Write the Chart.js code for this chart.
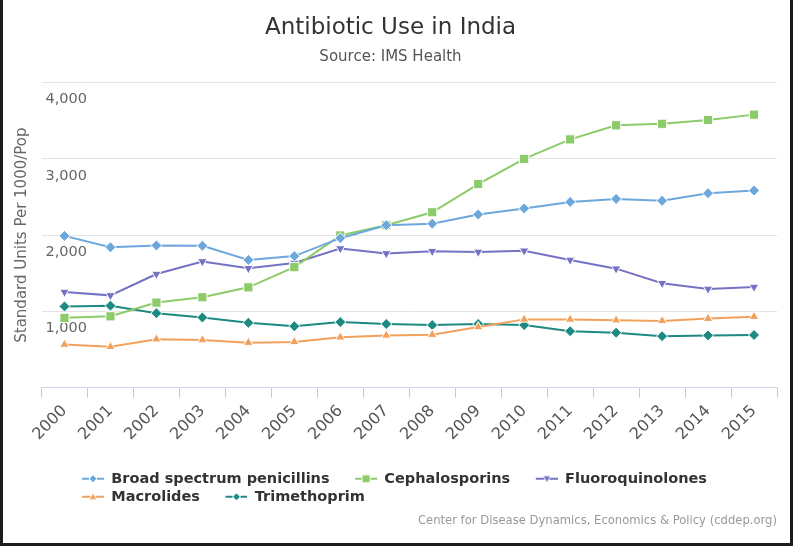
<!DOCTYPE html>
<html>
<head>
<meta charset="utf-8">
<script src="https://cdn.jsdelivr.net/npm/chart.js@4.4.1/dist/chart.umd.min.js"></script>
<style>
  html, body { margin: 0; padding: 0; background: #fff; }
  #wrap { position: relative; width: 794px; height: 546px; }
  #chart { position: absolute; left: 0; top: 0; }
  #frame { position: absolute; left: 0; top: 0; width: 793px; height: 546px; box-sizing: border-box;
    border-left: 3px solid #1c1c1c; border-right: 3px solid #1c1c1c; border-bottom: 3px solid #1c1c1c;
    pointer-events: none; }
</style>
</head>
<body>
<div id="wrap">
  <canvas id="chart" width="794" height="546"></canvas>
  <div id="frame"></div>
</div>
<script>
// values (standard units per 1000 population)
var years = ['2000', '2001', '2002', '2003', '2004', '2005', '2006', '2007',
             '2008', '2009', '2010', '2011', '2012', '2013', '2014', '2015'];
var broadSpectrum    = [1990, 1840, 1865, 1860, 1675, 1725, 1960, 2130, 2150, 2270, 2350, 2435, 2475, 2450, 2550, 2585];
var cephalosporins   = [915, 935, 1115, 1185, 1315, 1580, 1995, 2130, 2300, 2670, 3000, 3255, 3440, 3460, 3510, 3580];
var fluoroquinolones = [1255, 1210, 1490, 1655, 1565, 1635, 1825, 1760, 1790, 1780, 1795, 1675, 1560, 1370, 1295, 1320];
var macrolides       = [565, 535, 635, 625, 590, 600, 660, 685, 695, 795, 895, 895, 885, 875, 905, 930];
var trimethoprim     = [1065, 1075, 975, 920, 850, 805, 860, 835, 820, 835, 820, 740, 720, 675, 685, 690];

var seriesNames  = ['Broad spectrum penicillins', 'Cephalosporins', 'Fluoroquinolones', 'Macrolides', 'Trimethoprim'];
var seriesValues = [broadSpectrum, cephalosporins, fluoroquinolones, macrolides, trimethoprim];
var seriesColors = ['#6ea7dc', '#8bcb68', '#7571c3', '#f2a15c', '#1d8a82'];
var seriesShapes = ['diamond', 'square', 'down', 'up', 'diamond'];

var yMax = 4000;
var yStep = 1000;

var titleText = 'Antibiotic Use in India';
var subtitleText = 'Source: IMS Health';
var yTitle = 'Standard Units Per 1000/Pop';
var credits = 'Center for Disease Dynamics, Economics & Policy (cddep.org)';

Chart.defaults.font.family = "'DejaVu Sans', sans-serif";

// small line + marker used as legend symbol (left half left empty as spacing)
function legendIcon(color, shape) {
	var c = document.createElement('canvas');
	c.width = 44;
	c.height = 14;
	var g = c.getContext('2d');
	g.strokeStyle = color;
	g.lineWidth = 2;
	g.beginPath();
	g.moveTo(22, 7);
	g.lineTo(44, 7);
	g.stroke();
	var x = 33, y = 7, r = 4;
	g.beginPath();
	if (shape == 'diamond') {
		g.moveTo(x, y - r); g.lineTo(x + r, y); g.lineTo(x, y + r); g.lineTo(x - r, y);
	} else if (shape == 'square') {
		g.rect(x - r, y - r, 2 * r, 2 * r);
	} else if (shape == 'up') {
		g.moveTo(x, y - r); g.lineTo(x + r, y + r - 1); g.lineTo(x - r, y + r - 1);
	} else {
		g.moveTo(x, y + r); g.lineTo(x + r, y - r + 1); g.lineTo(x - r, y - r + 1);
	}
	g.closePath();
	g.fillStyle = color;
	g.fill();
	g.strokeStyle = '#fff';
	g.lineWidth = 1;
	g.stroke();
	return c;
}

var styleFor = {
	diamond: { pointStyle: 'rectRot', radius: 5.5, rotation: 0 },
	square:  { pointStyle: 'rect', radius: 6.5, rotation: 0 },
	down:    { pointStyle: 'triangle', radius: 5.5, rotation: 180 },
	up:      { pointStyle: 'triangle', radius: 5.5, rotation: 0 }
};

var datasets = seriesNames.map(function(name, i) {
	var s = styleFor[seriesShapes[i]];
	return {
		label: name,
		data: seriesValues[i],
		borderColor: seriesColors[i],
		backgroundColor: seriesColors[i],
		borderWidth: 2,
		tension: 0,
		pointStyle: s.pointStyle,
		pointRotation: s.rotation,
		pointRadius: s.radius,
		pointBackgroundColor: seriesColors[i],
		pointBorderColor: '#fff',
		pointBorderWidth: 1
	};
});

var icons = seriesNames.map(function(n, i) { return legendIcon(seriesColors[i], seriesShapes[i]); });

var extras = {
	id: 'extras',
	afterLayout: function(chart) {
		// highcharts legend rows start a bit further right
		chart.legend.left += 15;
	},
	afterDraw: function(chart) {
		var ctx = chart.ctx;
		ctx.save();
		ctx.font = "11.6px 'DejaVu Sans', sans-serif";
		ctx.fillStyle = '#999';
		ctx.textAlign = 'right';
		ctx.textBaseline = 'middle';
		ctx.fillText(credits, chart.width - 17, 521);
		ctx.restore();
	}
};

var ctx = document.getElementById('chart').getContext('2d');
var chart = new Chart(ctx, {
	type: 'line',
	data: { labels: years, datasets: datasets },
	plugins: [extras],
	options: {
		responsive: false,
		animation: false,
		layout: { padding: { left: 4, right: 17, top: 0, bottom: 32 } },
		plugins: {
			title: {
				display: true,
				text: titleText,
				color: '#333',
				font: { size: 23, weight: 'normal' },
				padding: { top: 14, bottom: 4 }
			},
			subtitle: {
				display: true,
				text: subtitleText,
				color: '#555',
				font: { size: 15 },
				padding: { top: 3, bottom: 16 }
			},
			legend: {
				position: 'bottom',
				align: 'start',
				fullSize: false,
				labels: {
					usePointStyle: true,
					pointStyleWidth: 44,
					padding: 3.5,
					color: '#333',
					font: { size: 14.5, weight: 'bold' },
					generateLabels: function(chart) {
						var items = Chart.defaults.plugins.legend.labels.generateLabels(chart);
						items.forEach(function(it, i) {
							it.pointStyle = icons[i];
							it.rotation = 0;
						});
						return items;
					}
				}
			},
			tooltip: { enabled: false }
		},
		scales: {
			x: {
				type: 'category',
				offset: true,
				grid: { offset: true, drawOnChartArea: false, drawTicks: true, tickLength: 10, color: '#c6cad2' },
				border: { color: '#ccd6eb' },
				ticks: { minRotation: 45, maxRotation: 45, autoSkip: false, padding: 4, color: '#555', font: { size: 16 } },
				title: { display: true, text: '', font: { size: 10 }, padding: { top: 0, bottom: 8 } },
				// rotated first label may hang into the y title area, as in the original
				afterFit: function(scale) { scale.paddingLeft = 0; }
			},
			y: {
				min: 0,
				max: yMax,
				grid: { color: '#e3e3e3', drawTicks: false, tickLength: 0 },
				border: { display: false },
				ticks: {
					stepSize: yStep,
					mirror: true,
					padding: 4,
					labelOffset: 17,
					color: '#666',
					font: { size: 14.5 },
					callback: function(v) { return v === 0 ? '' : v.toLocaleString('en-US'); }
				},
				title: {
					display: true,
					text: yTitle,
					color: '#666',
					font: { size: 15 },
					padding: { top: 9.5, bottom: 2 }
				}
			}
		}
	}
});
</script>
</body>
</html>
